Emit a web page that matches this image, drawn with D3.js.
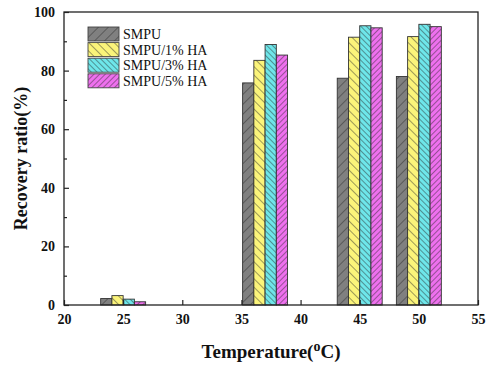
<!DOCTYPE html>
<html>
<head>
<meta charset="utf-8">
<script src="https://cdn.jsdelivr.net/npm/d3@7"></script>
<style>
  html, body { margin: 0; padding: 0; background: #fff; }
  svg { display: block; }
</style>
</head>
<body>
<svg id="chart" width="495" height="365"></svg>
<script>
// ---- data ----
const temperatures = [25, 37, 45, 50];
const seriesNames = ["SMPU", "SMPU/1% HA", "SMPU/3% HA", "SMPU/5% HA"];
const smpu   = [2.2, 75.8, 77.4, 78.0];
const smpu1  = [3.2, 83.5, 91.4, 91.6];
const smpu3  = [2.0, 88.9, 95.3, 95.8];
const smpu5  = [1.1, 85.3, 94.6, 95.0];
const xTicks = [20, 25, 30, 35, 40, 45, 50, 55];
const yTicks = [0, 20, 40, 60, 80, 100];
const yMinorTicks = [10, 30, 50, 70, 90];

const seriesValues = [smpu, smpu1, smpu3, smpu5];
const fills = ["#808080", "#fbf47a", "#6ee6ea", "#ee70ee"];
const hatchDir = [1, -1, -1, 1];      // 1 = "/", -1 = "\"
const hatchGap = [7, 6, 4, 4];

const svg = d3.select("#chart");
const margin = { left: 64, right: 17, top: 12, bottom: 60 };
const W = 495, H = 365;
const x = d3.scaleLinear().domain([20, 55]).range([margin.left, W - margin.right]);
const y = d3.scaleLinear().domain([0, 100]).range([H - margin.bottom, margin.top]);

const barUnits = 0.95; // bar width in temperature units

// patterns
const defs = svg.append("defs");
seriesNames.forEach((n, i) => {
  const g = hatchGap[i];
  const p = defs.append("pattern")
    .attr("id", "hatch" + i)
    .attr("patternUnits", "userSpaceOnUse")
    .attr("width", g).attr("height", g)
    .attr("patternTransform", "rotate(" + (hatchDir[i] > 0 ? 45 : -45) + ")");
  p.append("rect").attr("width", g).attr("height", g).attr("fill", fills[i]);
  p.append("line").attr("x1", 0).attr("y1", 0).attr("x2", 0).attr("y2", g)
    .attr("stroke", "#2a2a2a").attr("stroke-width", 0.9);
});

// bars
const font = "'Liberation Serif', 'Times New Roman', serif";
seriesValues.forEach((vals, i) => {
  svg.append("g").selectAll("rect")
    .data(temperatures.map((t, k) => ({ t, v: vals[k] })))
    .join("rect")
    .attr("x", d => x(d.t + (i - 2) * barUnits))
    .attr("width", d => x(d.t + (i - 1) * barUnits) - x(d.t + (i - 2) * barUnits))
    .attr("y", d => y(d.v))
    .attr("height", d => y(0) - y(d.v))
    .attr("fill", "url(#hatch" + i + ")")
    .attr("stroke", "#333")
    .attr("stroke-width", 0.9);
});

// frame
svg.append("rect")
  .attr("x", margin.left).attr("y", margin.top)
  .attr("width", W - margin.left - margin.right)
  .attr("height", H - margin.top - margin.bottom)
  .attr("fill", "none").attr("stroke", "#222").attr("stroke-width", 1.3);

// axes
const xAxis = d3.axisBottom(x).tickValues(xTicks).tickSize(-5).tickPadding(9);
const gx = svg.append("g").attr("transform", `translate(0,${y(0)})`).call(xAxis);
const yAxis = d3.axisLeft(y).tickValues(yTicks).tickSize(-5).tickPadding(9);
const gy = svg.append("g").attr("transform", `translate(${margin.left},0)`).call(yAxis);
const yAxisMinor = d3.axisLeft(y).tickValues(yMinorTicks).tickSize(-3).tickFormat("");
const gym = svg.append("g").attr("transform", `translate(${margin.left},0)`).call(yAxisMinor);
[gx, gy, gym].forEach(g => {
  g.select(".domain").remove();
  g.selectAll(".tick line").attr("stroke", "#222").attr("stroke-width", 1.2);
  g.selectAll("text").attr("font-family", font).attr("font-weight", "bold")
    .attr("font-size", 14).attr("fill", "#111");
});

// axis titles
const xt = svg.append("text")
  .attr("x", (margin.left + W - margin.right) / 2).attr("y", 358)
  .attr("text-anchor", "middle")
  .attr("font-family", font).attr("font-weight", "bold").attr("font-size", 19)
  .attr("fill", "#111");
xt.append("tspan").text("Temperature(");
xt.append("tspan").attr("dy", -7).attr("font-size", 14).text("o");
xt.append("tspan").attr("dy", 7).text("C)");

svg.append("text")
  .attr("transform", `translate(27,${(margin.top + H - margin.bottom) / 2}) rotate(-90)`)
  .attr("text-anchor", "middle")
  .attr("font-family", font).attr("font-weight", "bold").attr("font-size", 18)
  .attr("fill", "#111")
  .text("Recovery ratio(%)");

// legend
const lg = svg.append("g").attr("transform", "translate(88,27)");
seriesNames.forEach((n, i) => {
  const row = lg.append("g").attr("transform", `translate(0,${i * 15.6})`);
  row.append("rect").attr("width", 31).attr("height", 14)
    .attr("fill", "url(#hatch" + i + ")").attr("stroke", "#444").attr("stroke-width", 0.9);
  row.append("text").attr("x", 35).attr("y", 12)
    .attr("font-family", font).attr("font-size", 14).attr("fill", "#111").text(n);
});
</script>
</body>
</html>
